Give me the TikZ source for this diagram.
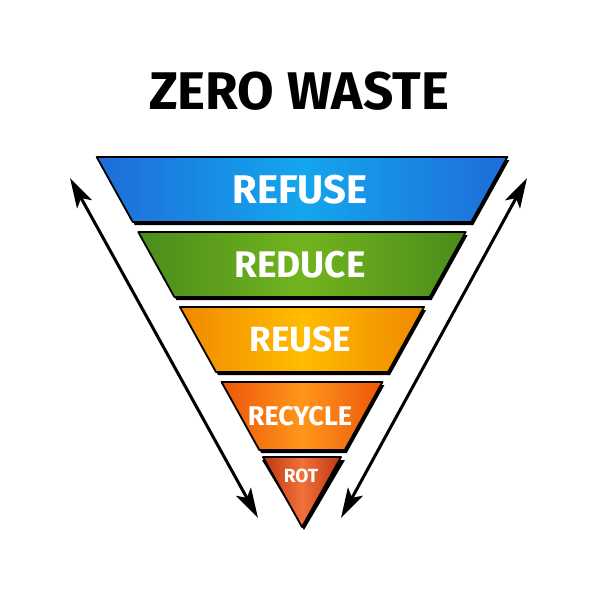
\documentclass[tikz,border=0pt]{standalone}
\usepackage{fontspec}
\setmainfont{Fira Sans}
\usetikzlibrary{arrows.meta}
\definecolor{bluee}{HTML}{1E6CD8}\definecolor{bluec}{HTML}{14A6EE}
\definecolor{greene}{HTML}{4A8C1A}\definecolor{greenc}{HTML}{72B41E}
\definecolor{orae}{HTML}{F08800}\definecolor{orac}{HTML}{FFBC00}
\definecolor{recye}{HTML}{EC560A}\definecolor{recyc}{HTML}{FF961A}
\definecolor{rote}{HTML}{BE3810}\definecolor{rotc}{HTML}{F2703A}
\tikzset{
  bandshadow/.style={fill=black},
  bandface/.style={draw=black,line width=1.8pt,line join=round},
  bandlabel/.style={text=white,font=\bfseries,inner sep=0pt,anchor=center},
  dblarrow/.style={line width=3pt,{Stealth[length=30pt,width=17pt,inset=7pt]}-{Stealth[length=30pt,width=17pt,inset=7pt]}},
}
\newcommand\zwband[7]{% y1 y2 edgecolor centercolor name text size
  \pgfmathsetmacro\xlt{302-0.555*(527-#1)}
  \pgfmathsetmacro\xrt{302+0.555*(527-#1)}
  \pgfmathsetmacro\xlb{302-0.555*(527-#2)}
  \pgfmathsetmacro\xrb{302+0.555*(527-#2)}
  \fill[bandshadow] ([shift={(2,3)}]\xlt,#1) -- ([shift={(2,3)}]\xrt,#1) -- ([shift={(2,3)}]\xrb,#2) -- ([shift={(2,3)}]\xlb,#2) -- cycle;
  \path[bandface,left color=#3,right color=#3,middle color=#4] (\xlt,#1) -- (\xrt,#1) -- (\xrb,#2) -- (\xlb,#2) -- cycle;
  \node[bandlabel,font=\bfseries\fontsize{#7}{#7}\selectfont] (#5) at (300,{(#1+#2)/2}) {#6};
}
\begin{document}
\begin{tikzpicture}[x=1pt,y=-1pt]
\useasboundingbox[fill=white] (0,0) rectangle (600,600);
\node[font=\bfseries\fontsize{53}{60}\selectfont,inner sep=0pt] (title) at (299,91) {ZERO WASTE};
\zwband{157}{222}{bluee}{bluec}{refuse}{REFUSE}{40}
\zwband{232}{297}{greene}{greenc}{reduce}{REDUCE}{37}
\zwband{307}{372}{orae}{orac}{reuse}{REUSE}{35}
\zwband{382}{450}{recye}{recyc}{recycle}{RECYCLE}{27}
% rot triangle
\fill[bandshadow] (262,460) -- (345,460) -- (304,530) -- cycle;
\path[bandface,left color=rote,right color=rote,middle color=rotc] (263,457) -- (341,457) -- (302,527) -- cycle;
\node[bandlabel,font=\bfseries\fontsize{19}{19}\selectfont] (rot) at (301,476) {ROT};
\coordinate (la) at (70,178);
\coordinate (lb) at (258,518);
\coordinate (ra) at (527,178);
\coordinate (rb) at (341,518);
\draw[dblarrow] (la) -- (lb);
\draw[dblarrow] (ra) -- (rb);
\end{tikzpicture}
\end{document}
